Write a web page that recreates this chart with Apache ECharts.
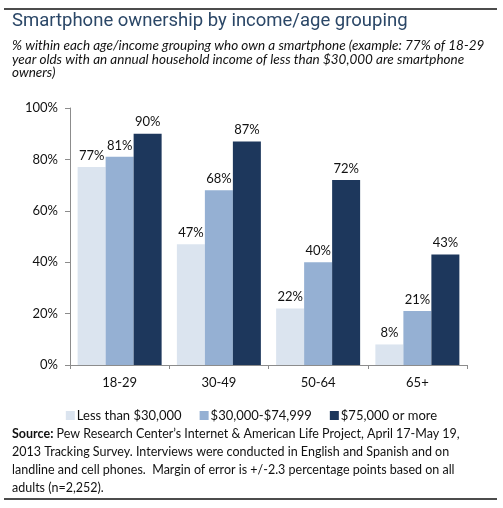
<!DOCTYPE html>
<html><head><meta charset="utf-8">
<script src="https://cdn.jsdelivr.net/npm/echarts@6/dist/echarts.min.js"></script>
<style>html,body{margin:0;padding:0;background:#fff}#c{width:503px;height:508px}</style>
</head><body><div id="c"></div>
<script>
const categories = ['18-29', '30-49', '50-64', '65+'];
const lessThan30k = [77, 47, 22, 8];
const from30kTo75k = [81, 68, 40, 21];
const over75k = [90, 87, 72, 43];
const seriesNames = ['Less than $30,000', '$30,000-$74,999', '$75,000 or more'];
const yTicks = [0, 20, 40, 60, 80, 100];

const colors = ['#dbe4ef', '#95b0d3', '#1d375c'];
const font = 'Lato, "Open Sans", sans-serif';
const chart = echarts.init(document.getElementById('c'), null, {renderer: 'canvas'});

function mk(name, data, color) {
  return {
    name: name, type: 'bar', data: data, barWidth: 28, barGap: '0%',
    itemStyle: {color: color},
    label: {show: true, position: 'top', distance: 5, formatter: '{c}%', color: '#111', fontSize: 13, fontFamily: font},
    emphasis: {disabled: true}
  };
}

chart.setOption({
  animation: false,
  grid: {left: 70, right: 36, top: 108, bottom: 143, containLabel: false},
  xAxis: {
    type: 'category', data: categories,
    axisLine: {lineStyle: {color: '#8c8c8c', width: 1}},
    axisTick: {show: true, length: 4, lineStyle: {color: '#8c8c8c'}},
    axisLabel: {color: '#111', fontSize: 13, fontFamily: font, margin: 11}
  },
  yAxis: {
    type: 'value', min: yTicks[0], max: yTicks[yTicks.length - 1], interval: 20,
    axisLine: {show: true, lineStyle: {color: '#8c8c8c', width: 1}},
    axisTick: {show: true, length: 5, lineStyle: {color: '#8c8c8c'}},
    splitLine: {show: false},
    axisLabel: {formatter: '{value}%', color: '#111', fontSize: 13, fontFamily: font, margin: 12}
  },
  legend: {
    data: seriesNames, left: 'center', top: 404, itemWidth: 9, itemHeight: 9, itemGap: 18,
    icon: 'rect', textStyle: {color: '#111', fontSize: 13, fontFamily: font, padding: [0, 0, 0, -3]}
  },
  series: [mk(seriesNames[0], lessThan30k, colors[0]), mk(seriesNames[1], from30kTo75k, colors[1]), mk(seriesNames[2], over75k, colors[2])],
  graphic: [
    {type: 'line', shape: {x1: 4, y1: 9, x2: 497, y2: 9}, style: {stroke: '#111', lineWidth: 1.5}},
    {type: 'line', shape: {x1: 4, y1: 499, x2: 497, y2: 499}, style: {stroke: '#111', lineWidth: 1.5}},
    {type: 'text', left: 12, top: 12, style: {text: 'Smartphone ownership by income/age grouping', fill: '#2b4767', font: '18.5px Roboto, sans-serif'}},
    {type: 'text', left: 12, top: 39, style: {
      text: '% within each age/income grouping who own a smartphone (example: 77% of 18-29\nyear olds with an annual household income of less than $30,000 are smartphone\nowners)',
      fill: '#111', font: 'italic 13.5px ' + font, lineHeight: 13.5}},
    {type: 'text', left: 12, top: 425, style: {
      rich: {b: {fontWeight: 'bold', fontSize: 12.5, fontFamily: font, fill: '#111'}, n: {fontSize: 12.5, fontFamily: font, fill: '#111'}},
      text: '{b|Source:}{n| Pew Research Center\u2019s Internet & American Life Project, April 17-May 19,}\n{n|2013 Tracking Survey. Interviews were conducted in English and Spanish and on}\n{n|landline and cell phones.  Margin of error is +/-2.3 percentage points based on all}\n{n|adults (n=2,252).}',
      lineHeight: 18}}
  ]
});
</script></body></html>
